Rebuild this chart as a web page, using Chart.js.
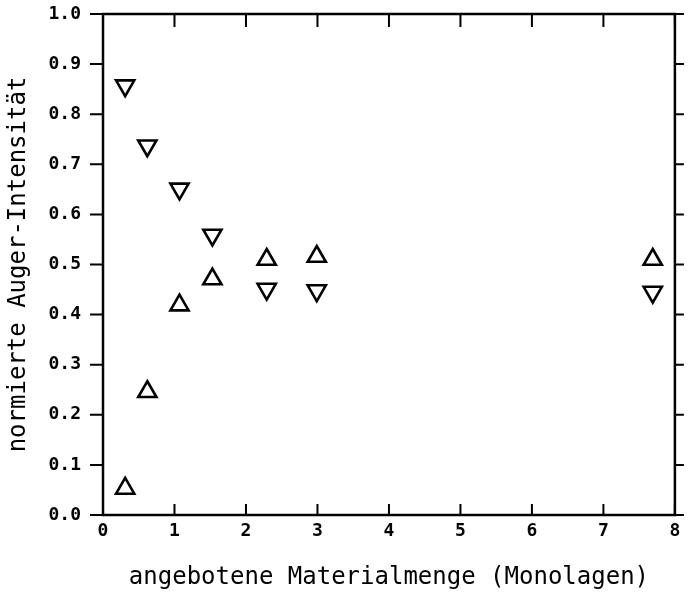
<!DOCTYPE html>
<html>
<head>
<meta charset="utf-8">
<script src="https://cdn.jsdelivr.net/npm/chart.js@4"></script>
<style>
  html, body { margin: 0; padding: 0; background: #fff; }
  #wrap { width: 688px; height: 596px; }
</style>
</head>
<body>
<div id="wrap"><canvas id="chart1"></canvas></div>
<script>
// Materialmenge in Monolagen
const menge = [0.31, 0.62, 1.07, 1.53, 2.29, 2.99, 7.69];
// normierte Intensitaeten (abfallend / ansteigend)
const abfallend = [0.857, 0.737, 0.651, 0.559, 0.451, 0.448, 0.445];
const ansteigend = [0.053, 0.246, 0.419, 0.471, 0.510, 0.516, 0.510];
const xTicks = [0, 1, 2, 3, 4, 5, 6, 7, 8];
const yTicks = [0.0, 0.1, 0.2, 0.3, 0.4, 0.5, 0.6, 0.7, 0.8, 0.9, 1.0];

const font = "'DejaVu Sans Mono', monospace";

function pts(ys) {
    return menge.map((x, i) => ({ x: x, y: ys[i] }));
}

// frame with ticks: left/right outward, top/bottom inward
const frame = {
    id: 'frame',
    afterDatasetsDraw(chart) {
        const { ctx, chartArea: a, scales } = chart;
        ctx.save();
        ctx.strokeStyle = '#000';
        ctx.lineWidth = 2.5;
        ctx.strokeRect(a.left, a.top, a.right - a.left, a.bottom - a.top);
        ctx.lineWidth = 2;
        ctx.beginPath();
        xTicks.forEach(v => {
            const px = scales.x.getPixelForValue(v);
            ctx.moveTo(px, a.top); ctx.lineTo(px, a.top + 13);
            ctx.moveTo(px, a.bottom); ctx.lineTo(px, a.bottom - 11);
        });
        yTicks.forEach(v => {
            const py = scales.y.getPixelForValue(v);
            ctx.moveTo(a.left - 13, py); ctx.lineTo(a.left, py);
            ctx.moveTo(a.right, py); ctx.lineTo(a.right + 9, py);
        });
        ctx.stroke();
        ctx.restore();
    }
};

new Chart(document.getElementById('chart1'), {
    type: 'scatter',
    data: {
        datasets: [{
            data: pts(abfallend),
            pointStyle: 'triangle',
            rotation: 180,
            pointRadius: 10.5,
            pointBorderWidth: 2.6,
            borderColor: '#000',
            backgroundColor: 'rgba(0,0,0,0)'
        }, {
            data: pts(ansteigend),
            pointStyle: 'triangle',
            pointRadius: 10.5,
            pointBorderWidth: 2.6,
            borderColor: '#000',
            backgroundColor: 'rgba(0,0,0,0)'
        }]
    },
    options: {
        responsive: true,
        maintainAspectRatio: false,
        animation: false,
        layout: { padding: { top: 14, right: 8, left: 0, bottom: 0 } },
        plugins: { legend: { display: false }, tooltip: { enabled: false } },
        scales: {
            x: {
                type: 'linear',
                min: 0, max: 8,
                afterBuildTicks: s => { s.ticks = xTicks.map(v => ({ value: v })); },
                afterFit: s => { s.height = 81; s.paddingLeft = 0; s.paddingRight = 0; },
                grid: { display: false, drawTicks: false },
                border: { display: false },
                ticks: {
                    padding: 6,
                    color: '#000',
                    font: { family: font, size: 18, weight: 'bold' },
                    callback: v => String(v)
                },
                title: {
                    display: true,
                    text: 'angebotene Materialmenge (Monolagen)',
                    color: '#000',
                    font: { family: font, size: 24 },
                    padding: { top: 18 }
                }
            },
            y: {
                type: 'linear',
                min: 0, max: 1,
                afterBuildTicks: s => { s.ticks = yTicks.map(v => ({ value: v })); },
                afterFit: s => { s.width = 103; s.paddingTop = 0; s.paddingBottom = 0; },
                grid: { display: false, drawTicks: false },
                border: { display: false },
                ticks: {
                    padding: 22,
                    color: '#000',
                    font: { family: font, size: 18, weight: 'bold' },
                    callback: v => v.toFixed(1)
                },
                title: {
                    display: true,
                    text: 'normierte Auger-Intensität',
                    color: '#000',
                    font: { family: font, size: 24 },
                    padding: { top: 4, bottom: 0 }
                }
            }
        }
    },
    plugins: [frame]
});
</script>
</body>
</html>
